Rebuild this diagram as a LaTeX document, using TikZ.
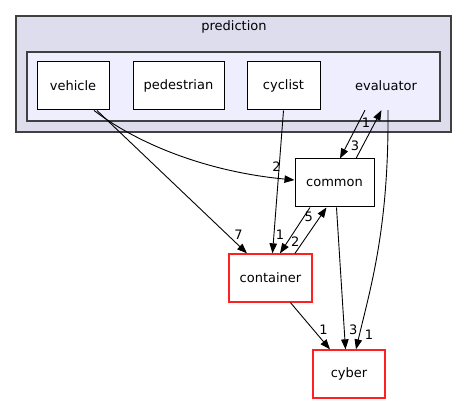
\documentclass[tikz,border=0pt]{standalone}
\usepackage{fontspec}
\setmainfont{DejaVu Sans}
\usetikzlibrary{arrows.meta}
\definecolor{clusterfill}{HTML}{DDDDEE}
\definecolor{innerfill}{HTML}{EEEEFF}
\definecolor{clusterline}{HTML}{404040}
\definecolor{extline}{HTML}{FF2020}

\begin{document}
\begin{tikzpicture}[
    x=1pt, y=-1pt,
    every node/.style={font=\fontsize{13}{15}\selectfont},
    dirbox/.style={rectangle, draw=black, line width=1pt, fill=white, minimum width=72pt, minimum height=48pt, inner sep=0pt},
    extbox/.style={dirbox, draw=extline, line width=1.3pt},
    cluster/.style={rectangle, draw=clusterline, line width=1.2pt, inner sep=0pt},
    arrow/.style={line width=0.9pt, -{Triangle[length=10pt, width=7.5pt]}},
    num/.style={inner sep=1pt}
]
\useasboundingbox (0,0) rectangle (467,404);

% Clusters
\node[cluster, fill=clusterfill, minimum width=435pt, minimum height=116pt] (prediction) at (233.5,74) {};
\node (predictionlabel) at (234,27) {prediction};
\node[cluster, fill=innerfill, minimum width=413pt, minimum height=69pt] (evaluatorbox) at (233.5,86.5) {};

% Directories
\node[dirbox] (vehicle) at (73,86) {vehicle};
\node[dirbox, minimum width=91pt] (pedestrian) at (178.5,86) {pedestrian};
\node[dirbox, minimum width=73pt] (cyclist) at (283.5,86) {cyclist};
\node[minimum width=88pt, minimum height=48pt, inner sep=0pt] (evaluator) at (386,86) {evaluator};
\node[dirbox, minimum width=79pt] (common) at (334.5,183) {common};
\node[extbox, minimum width=83pt] (container) at (270.5,278) {container};
\node[extbox] (cyber) at (349,374) {cyber};

% Dependencies
\draw[arrow] ([xshift=21pt]vehicle.south) .. controls +(46,35) and +(-85,-8) .. ([yshift=3pt]common.west) node[num, pos=0.9, xshift=7pt, yshift=10pt] {2};
\draw[arrow] ([xshift=24pt]vehicle.south) -- ([xshift=-23.5pt]container.north) node[num, pos=0.87, xshift=11pt] {7};
\draw[arrow] (cyclist.south) -- ([xshift=2pt]container.north) node[num, pos=0.87, xshift=6pt] {1};
\draw[arrow] ([xshift=-21pt]evaluator.south) -- ([xshift=5.5pt]common.north) node[num, pos=0.74, xshift=8.5pt] {3};
\draw[arrow] ([xshift=21.5pt]common.north) -- ([xshift=-4.5pt]evaluator.south) node[num, pos=0.745, xshift=-9pt] {1};
\draw[arrow] ([xshift=2pt]evaluator.south) .. controls +(1,119) and +(14,-60) .. ([xshift=7pt]cyber.north) node[num, pos=0.95, xshift=11pt, yshift=6pt] {1};
\draw[arrow] ([xshift=-24.5pt]common.south) -- ([xshift=9.5pt]container.north) node[num, pos=0.745, xshift=7.5pt] {2};
\draw[arrow] ([xshift=24.5pt]container.north) -- ([xshift=-8pt]common.south) node[num, pos=0.787, xshift=-11pt] {5};
\draw[arrow] ([xshift=2pt]common.south) -- ([xshift=-3.5pt]cyber.north) node[num, pos=0.86, xshift=9pt] {3};
\draw[arrow] ([xshift=20pt]container.south) -- ([xshift=-19pt]cyber.north) node[num, pos=0.583, xshift=10pt] {1};

\end{tikzpicture}
\end{document}
